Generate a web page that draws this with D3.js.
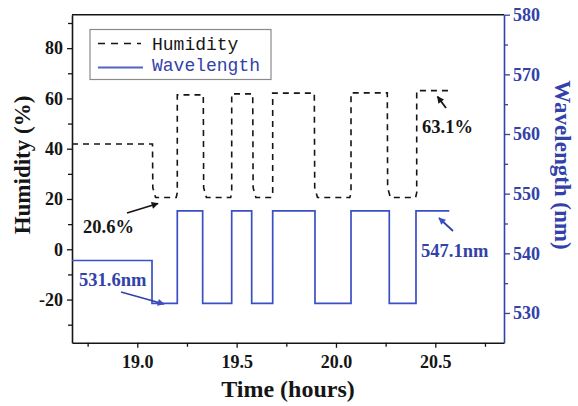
<!DOCTYPE html>
<html><head><meta charset="utf-8">
<script src="https://cdn.jsdelivr.net/npm/d3@7"></script>
<style>body{margin:0;background:#fff}svg{display:block}</style>
</head><body><svg id="chart" width="578" height="406"></svg>
<script>
// Humidity step record (%), dashed trace
const humidityTime = [18.6713, 19.0765, 19.078, 19.092, 19.196, 19.2013, 19.2013, 19.3322, 19.334, 19.348, 19.470, 19.4752, 19.4752, 19.581, 19.583, 19.597, 19.676, 19.6815, 19.6815, 19.891, 19.893, 19.907, 20.070, 20.0757, 20.0757, 20.2584, 20.260, 20.274, 20.401, 20.4064, 20.4064, 20.5654];
const humidityValue = [41.9, 41.9, 24.5, 20.6, 20.6, 22.5, 61.4, 61.4, 24.5, 20.6, 20.6, 22.5, 61.8, 61.8, 24.5, 20.6, 20.6, 22.5, 62.1, 62.1, 24.5, 20.6, 20.6, 22.5, 62.2, 62.2, 24.5, 20.6, 20.6, 22.5, 63.1, 63.1];
// Resonance wavelength (nm), solid trace
const wavelengthTime = [18.6713, 19.074, 19.074, 19.2013, 19.2013, 19.329, 19.329, 19.4752, 19.4752, 19.5758, 19.5758, 19.6815, 19.6815, 19.8944, 19.8944, 20.0757, 20.0757, 20.2684, 20.2684, 20.4028, 20.4028, 20.5704];
const wavelengthValue = [538.8, 538.8, 531.6, 531.6, 547.1, 547.1, 531.6, 531.6, 547.1, 547.1, 531.6, 531.6, 547.1, 547.1, 531.6, 531.6, 547.1, 547.1, 531.6, 531.6, 547.1, 547.1];

const timeTicks = [19.0, 19.5, 20.0, 20.5];
const timeMinorTicks = [18.75, 19.25, 19.75, 20.25, 20.75];
const humidityTicks = [-20, 0, 20, 40, 60, 80];
const humidityMinorTicks = [-30, -10, 10, 30, 50, 70, 90];
const wavelengthTicks = [530, 540, 550, 560, 570, 580];
const wavelengthMinorTicks = [535, 545, 555, 565, 575];

const serif = "'Liberation Serif','Times New Roman',serif";
const mono = "'Liberation Mono','Courier New',monospace";
const ink = "#151515";
const blue = "#3a4fc4";
const blueText = "#3242a8";

const svg = d3.select("#chart");
const L = 72, R = 504, T = 14.7, B = 342.8;

const x = d3.scaleLinear().domain([18.6713, 20.8458]).range([L, R]);
const yH = d3.scaleLinear().domain([-37.2, 93.3]).range([B, T]);
const yW = d3.scaleLinear().domain([525, 580]).range([B, T]);

svg.append("rect").attr("width", 578).attr("height", 406).attr("fill", "#fff");

// arrowheads
const defs = svg.append("defs");
[["arrK", ink], ["arrB", blue]].forEach(([id, c]) => {
  defs.append("marker").attr("id", id).attr("viewBox", "0 0 10 10")
    .attr("refX", 9).attr("refY", 5).attr("markerWidth", 9).attr("markerHeight", 7)
    .attr("markerUnits", "userSpaceOnUse").attr("orient", "auto")
    .append("path").attr("d", "M0,0 L10,5 L0,10 Z").attr("fill", c);
});

function styleAxis(g, color) {
  g.selectAll("path.domain").attr("stroke", color).attr("stroke-width", 1.6);
  g.selectAll(".tick line").attr("stroke", color).attr("stroke-width", 1.3);
  g.selectAll(".tick text").attr("fill", color)
    .style("font-family", serif).style("font-weight", "bold").style("font-size", "18px");
}

// bottom axis
const gx = svg.append("g").attr("transform", `translate(0,${B})`)
  .call(d3.axisBottom(x).tickValues(timeTicks).tickSize(5).tickSizeOuter(0)
    .tickPadding(7).tickFormat(d3.format(".1f")));
styleAxis(gx, ink);
const gxm = svg.append("g").attr("transform", `translate(0,${B})`)
  .call(d3.axisBottom(x).tickValues(timeMinorTicks).tickSize(4).tickSizeOuter(0).tickFormat(""));
styleAxis(gxm, ink);
gxm.select("path.domain").remove();

// left axis (humidity)
const gl = svg.append("g").attr("transform", `translate(${L},0)`)
  .call(d3.axisLeft(yH).tickValues(humidityTicks).tickSize(5).tickSizeOuter(0)
    .tickPadding(4).tickFormat(d => String(d)));
styleAxis(gl, ink);
const glm = svg.append("g").attr("transform", `translate(${L},0)`)
  .call(d3.axisLeft(yH).tickValues(humidityMinorTicks).tickSize(4).tickSizeOuter(0).tickFormat(""));
styleAxis(glm, ink);
glm.select("path.domain").remove();

// right axis (wavelength)
const gr = svg.append("g").attr("transform", `translate(${R},0)`)
  .call(d3.axisRight(yW).tickValues(wavelengthTicks).tickSize(6).tickSizeOuter(0)
    .tickPadding(3).tickFormat(d => String(d)));
styleAxis(gr, blueText);
const grm = svg.append("g").attr("transform", `translate(${R},0)`)
  .call(d3.axisRight(yW).tickValues(wavelengthMinorTicks).tickSize(4).tickSizeOuter(0).tickFormat(""));
styleAxis(grm, blueText);
grm.select("path.domain").remove();

// top frame
svg.append("line").attr("x1", L).attr("x2", R).attr("y1", T).attr("y2", T)
  .attr("stroke", ink).attr("stroke-width", 1.6);

// axis titles
svg.append("text").attr("x", 288).attr("y", 397)
  .attr("text-anchor", "middle").attr("fill", ink)
  .style("font-family", serif).style("font-weight", "bold").style("font-size", "24px")
  .text("Time (hours)");
svg.append("text").attr("transform", "translate(30,165) rotate(-90)")
  .attr("text-anchor", "middle").attr("fill", ink)
  .style("font-family", serif).style("font-weight", "bold").style("font-size", "23px")
  .text("Humidity (%)");
svg.append("text").attr("transform", "translate(555,165) rotate(90)")
  .attr("text-anchor", "middle").attr("fill", blueText)
  .style("font-family", serif).style("font-weight", "bold").style("font-size", "23px")
  .text("Wavelength (nm)");

// traces
const hLine = d3.line().x(d => x(d[0])).y(d => yH(d[1]));
const wLine = d3.line().x(d => x(d[0])).y(d => yW(d[1]));

svg.append("path").datum(d3.zip(wavelengthTime, wavelengthValue))
  .attr("d", wLine).attr("fill", "none").attr("stroke", blue).attr("stroke-width", 1.7);
svg.append("path").datum(d3.zip(humidityTime, humidityValue))
  .attr("d", hLine).attr("fill", "none").attr("stroke", ink).attr("stroke-width", 1.6)
  .attr("stroke-dasharray", "6,5");

// legend
const lg = svg.append("g");
lg.append("rect").attr("x", 90).attr("y", 29.5).attr("width", 181).attr("height", 50)
  .attr("fill", "#fff").attr("stroke", "#8a8a8a").attr("stroke-width", 1.2);
lg.append("line").attr("x1", 98).attr("x2", 141).attr("y1", 43.5).attr("y2", 43.5)
  .attr("stroke", ink).attr("stroke-width", 1.6).attr("stroke-dasharray", "7,6");
lg.append("line").attr("x1", 98).attr("x2", 143).attr("y1", 67.5).attr("y2", 67.5)
  .attr("stroke", "#5063c8").attr("stroke-width", 1.8);
lg.append("text").attr("x", 152).attr("y", 49.5).attr("fill", ink)
  .style("font-family", mono).style("font-size", "18px").text("Humidity");
lg.append("text").attr("x", 152).attr("y", 71).attr("fill", blueText)
  .style("font-family", mono).style("font-size", "18px").text("Wavelength");

// annotations
function note(tx, ty, label, color, x1, y1, x2, y2, marker) {
  svg.append("line").attr("x1", x1).attr("y1", y1).attr("x2", x2).attr("y2", y2)
    .attr("stroke", color).attr("stroke-width", 1.8).attr("marker-end", `url(#${marker})`);
  svg.append("text").attr("x", tx).attr("y", ty).attr("fill", color)
    .style("font-family", serif).style("font-weight", "bold").style("font-size", "18.5px")
    .text(label);
}
note(83, 233, "20.6%", ink, 127, 213, 158, 203.5, "arrK");
note(79, 286, "531.6nm", blueText, 121, 292, 164, 304, "arrB");
note(422, 132.5, "63.1%", ink, 446, 108, 437.5, 96.5, "arrK");
note(421, 257, "547.1nm", blueText, 453, 231, 439, 218, "arrB");
</script>
</body></html>
